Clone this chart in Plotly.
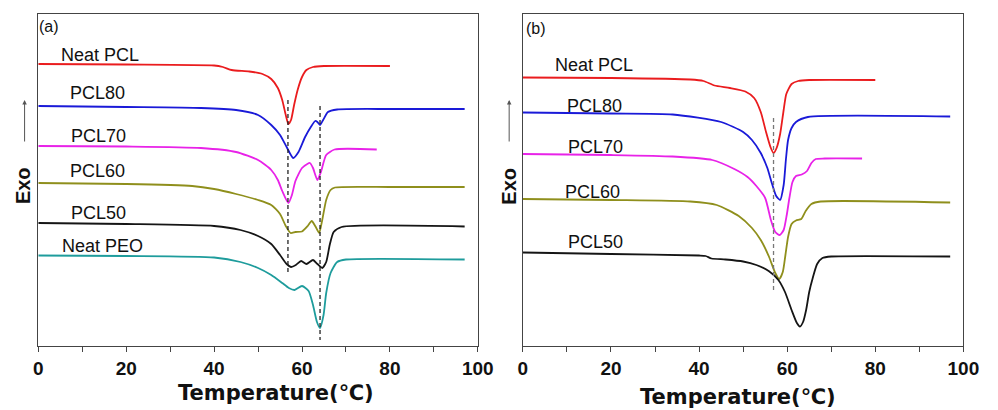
import plotly.graph_objects as go

W, H = 998, 410

# ---------------- Data (heat flow in arbitrary units, exo up) ----------------
# Panel (a)
a_pcl_T  = [0, 20, 40, 42, 44, 48, 51, 53, 54.5, 55.5, 56.3, 56.9, 57.5, 58.2, 59, 60, 61, 62.5, 65, 80]
a_pcl_hf = [-64, -64.5, -65.5, -67, -70, -71.5, -74, -79, -88, -100, -115, -124, -120, -105, -90, -77, -70, -67, -66, -66]

a_80_T  = [0, 20, 37, 45, 50, 53, 55, 56.5, 58, 59.2, 60.7, 62, 63, 63.5, 64.1, 64.8, 65.9, 68, 80, 97]
a_80_hf = [-106, -107, -108, -110, -115, -125, -135, -147, -158, -152, -137, -127, -121, -122, -125, -120, -112, -109.5, -109, -109]

a_70_T  = [0, 20, 37, 45, 50, 53, 54.5, 55.5, 56.9, 57.7, 58.5, 60, 61.2, 61.8, 62.5, 63.5, 64.3, 65.5, 67.4, 77]
a_70_hf = [-146, -146.5, -148, -152, -160, -170, -180, -191, -203, -195, -181, -168, -164, -163, -168, -180, -172, -155, -149.5, -149.5]

a_60_T  = [0, 20, 35, 40, 45, 50, 53, 55, 56.3, 57.4, 58.5, 60, 61.3, 62.2, 63, 63.9, 64.6, 65.5, 66.5, 67.5, 80, 97]
a_60_hf = [-183, -184, -186, -189, -194, -200, -205, -214, -226, -233, -232, -231.5, -226, -221, -226, -233, -220, -200, -190, -187.5, -187, -187]

a_50_T  = [0, 20, 40, 46, 50, 53, 55, 56.5, 57.5, 58.6, 59.8, 61, 62.5, 63.5, 64.6, 65.5, 66.3, 67.2, 69, 97]
a_50_hf = [-223, -224, -226, -230, -236, -244, -255, -264, -267, -265, -261, -264, -260, -264, -268, -262, -245, -232, -227, -226.5]

a_peo_T  = [0, 20, 40, 46, 50, 53, 55.5, 57, 58.3, 60, 61.5, 62.5, 63.4, 64.1, 64.9, 65.5, 66.5, 68, 70, 97]
a_peo_hf = [-255.5, -256, -257.5, -262, -268, -275, -283, -288, -290, -286, -291, -305, -322, -328, -315, -293, -273, -262, -259.5, -259.5]

a_tm_T = [56.8, 64.1]           # melting-peak reference lines
a_tm_top = [-100, -106]
a_tm_bot = [-275, -340]

# Panel (b)
b_pcl_T  = [0, 20, 38, 41, 43.5, 47, 50.5, 52.5, 54, 55.2, 56.2, 56.9, 57.6, 58.4, 59.2, 59.8, 61, 62.5, 65, 80]
b_pcl_hf = [-77.5, -78, -79.5, -81, -85.5, -88, -91.5, -98, -112, -132, -147, -153, -148, -134, -110, -94, -84, -81, -80, -80]

b_80_T  = [0, 20, 34, 45, 50, 52, 54, 55.5, 56.5, 57.5, 58.4, 59.2, 59.7, 60.2, 61, 62, 64.7, 97]
b_80_hf = [-112.5, -113.5, -114.5, -122, -132, -140, -153, -168, -183, -196, -200, -185, -160, -140, -128, -122, -117, -116.5]

b_70_T  = [0, 20, 34, 43, 48, 51, 53, 55, 56.3, 57.3, 58.3, 59.2, 59.9, 60.5, 61.2, 62, 63.3, 64.5, 65.5, 66.5, 68.5, 77]
b_70_hf = [-154, -155, -156.5, -160, -169, -177, -186, -198, -220, -232, -235, -230, -215, -198, -182, -176, -174.5, -171, -163, -159, -158.5, -158.5]

b_60_T  = [0, 20, 38, 44, 49, 52, 54, 55.8, 57.3, 58.2, 59, 59.6, 60.2, 61, 62, 63.2, 64.2, 65.5, 67.6, 97]
b_60_hf = [-199, -200, -201.5, -205, -216, -228, -240, -256, -273, -279, -272, -255, -237, -224, -220.5, -219, -211, -204, -201.5, -202.5]

b_50_T  = [0, 20, 40, 41.5, 42.8, 46, 50, 53, 55.8, 58, 59.5, 61, 62.2, 62.9, 63.6, 64.3, 65, 65.8, 66.8, 68, 70, 97]
b_50_hf = [-252.5, -254, -255.5, -256, -258.5, -259.5, -261.5, -265, -271, -280, -292, -310, -323, -326.5, -322, -310, -292, -278, -264, -258, -256.5, -256.5]

b_tm_T = [56.9]
b_tm_top = [-118]
b_tm_bot = [-293]

x_ticks = [0, 20, 40, 60, 80, 100]

# ---------------- Styles ----------------
RED, BLUE, MAG, OLIVE, BLACK, TEAL = "#ea1c1e", "#1a1ad8", "#e822e8", "#8f8f1c", "#151515", "#1e9c9c"
FONT = "Liberation Sans, Arial, sans-serif"

fig = go.Figure()

def curve(T, hf, color, xa, ya):
    fig.add_trace(go.Scatter(x=T, y=hf, mode="lines", xaxis=xa, yaxis=ya,
                             line=dict(color=color, width=1.8, shape="spline", smoothing=0.6),
                             hoverinfo="skip", showlegend=False))

def vline(Ts, tops, bots, color, xa, ya):
    for t, a, b in zip(Ts, tops, bots):
        fig.add_trace(go.Scatter(x=[t, t], y=[a, b], mode="lines", xaxis=xa, yaxis=ya,
                                 line=dict(color=color, width=1.3, dash="4px,3px"),
                                 hoverinfo="skip", showlegend=False))

for T, hf, c in [(a_pcl_T, a_pcl_hf, RED), (a_80_T, a_80_hf, BLUE), (a_70_T, a_70_hf, MAG),
                 (a_60_T, a_60_hf, OLIVE), (a_50_T, a_50_hf, BLACK), (a_peo_T, a_peo_hf, TEAL)]:
    curve(T, hf, c, "x", "y")
vline(a_tm_T, a_tm_top, a_tm_bot, "#222222", "x", "y")

for T, hf, c in [(b_pcl_T, b_pcl_hf, RED), (b_80_T, b_80_hf, BLUE), (b_70_T, b_70_hf, MAG),
                 (b_60_T, b_60_hf, OLIVE), (b_50_T, b_50_hf, BLACK)]:
    curve(T, hf, c, "x2", "y2")
vline(b_tm_T, b_tm_top, b_tm_bot, "#777777", "x2", "y2")

def xaxis(dom):
    return dict(domain=dom, range=[0, 100], showline=True, linecolor="#444", linewidth=1.3,
                mirror=True, showgrid=False, zeroline=False, tickvals=x_ticks,
                ticks="outside", ticklen=5, tickwidth=1.2, tickcolor="#444",
                minor=dict(dtick=10, ticks="outside", ticklen=5, tickwidth=1.2, tickcolor="#444"),
                tickfont=dict(family=FONT, size=19, color="#111", weight="bold"))

def yaxis(anchor):
    return dict(domain=[64 / H, 396 / H], range=[-346, -14], anchor=anchor, showline=True,
                linecolor="#444", linewidth=1.3, mirror=True, showgrid=False, zeroline=False,
                showticklabels=False, ticks="")

xa = xaxis([34 / W, 483 / W]); xa["anchor"] = "y"
xb = xaxis([529 / W, 979 / W]); xb["anchor"] = "y2"

def P(x, y):
    return x / W, 1 - y / H

ann = []
def label(text, x, y, size=18, bold=False, family=FONT, angle=0):
    px, py = P(x, y)
    ann.append(dict(text=text, x=px, y=py, xref="paper", yref="paper", showarrow=False,
                    xanchor="center", yanchor="middle", textangle=angle,
                    font=dict(family=family, size=size, color="#111",
                              weight="bold" if bold else "normal")))

# curve labels (a)
for t, x, y in [("Neat PCL", 97, 55), ("PCL80", 94, 93), ("PCL70", 95, 136),
                ("PCL60", 94, 171), ("PCL50", 96, 213), ("Neat PEO", 100, 246)]:
    label(t, x, y)
# curve labels (b)
for t, x, y in [("Neat PCL", 602, 65), ("PCL80", 602, 106), ("PCL70", 603, 147),
                ("PCL60", 600, 192), ("PCL50", 603, 242)]:
    label(t, x, y)

label("(a)", 45, 26, size=16)
label("(b)", 542, 28, size=16)

label("Exo", 18.5, 186, size=20, bold=True, angle=-90)
label("Exo", 514.5, 186, size=20, bold=True, angle=-90)

label("Temperature(℃)", 277, 393, size=21, bold=True, family="DejaVu Sans, sans-serif")
label("Temperature(℃)", 749, 397, size=21, bold=True, family="DejaVu Sans, sans-serif")

# "Exo" direction arrows
for x in (20, 515):
    hx, hy = P(x, 100)
    ann.append(dict(x=hx, y=hy, xref="paper", yref="paper", ax=0, ay=43, axref="pixel",
                    ayref="pixel", showarrow=True, arrowhead=2, arrowsize=0.9, arrowwidth=1,
                    arrowcolor="#555", text=""))

fig.update_layout(width=W, height=H, autosize=False, margin=dict(l=0, r=0, t=0, b=0),
                  paper_bgcolor="white", plot_bgcolor="white",
                  xaxis=xa, yaxis=yaxis("x"), xaxis2=xb, yaxis2=yaxis("x2"),
                  annotations=ann, showlegend=False)

fig.write_html("out.html", config={"displayModeBar": False, "responsive": False},
               post_script="document.body.style.margin='0';document.body.style.overflow='hidden';")
